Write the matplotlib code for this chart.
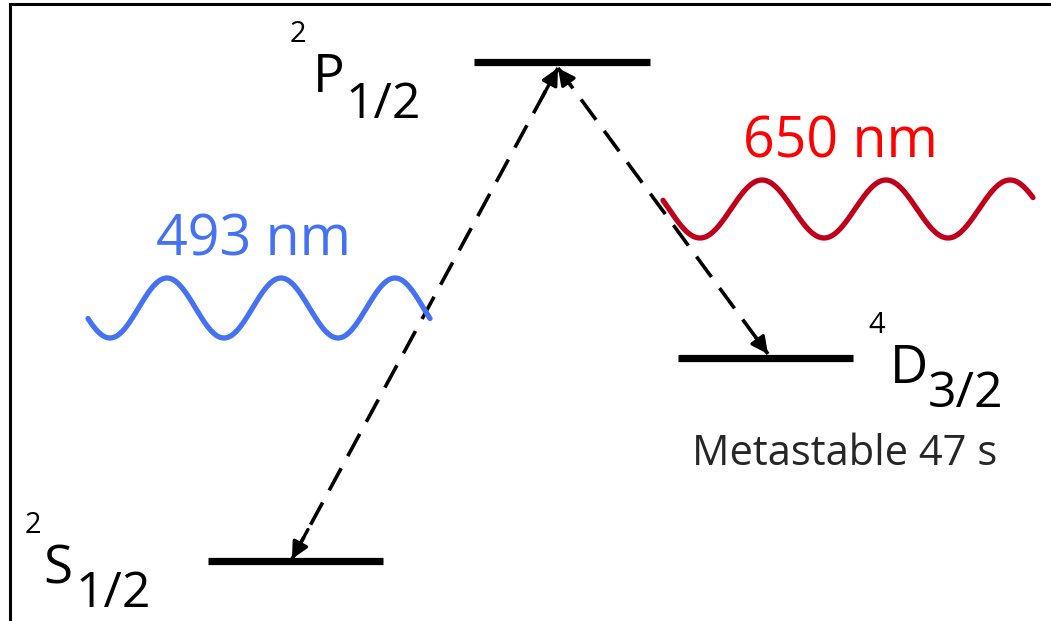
"""Ba+ energy level diagram: 2S1/2, 2P1/2, 4D3/2 with 493 nm and 650 nm lasers."""

import numpy as np
import matplotlib.pyplot as plt

plt.rcParams["font.family"] = ["Open Sans", "DejaVu Sans"]

# ---------------------------------------------------------------
# Data (pixel coordinates of the original slide, y grows downward)
# ---------------------------------------------------------------
level_names = ["S", "P", "D"]
level_y = [561, 61.5, 357.5]
level_x0 = [208, 474, 678]
level_x1 = [383, 650, 853]

# term symbol pieces: multiplicity, letter, J
term_mult = ["2", "2", "4"]
term_letter = ["S", "P", "D"]
term_j = ["1/2", "1/2", "3/2"]

# transitions (dashed) between levels: (from, to)
transitions = [((292, 559), (558, 68)), ((558, 68), (768, 354))]

# laser waves: x start, x end, centre y, amplitude, period, trough x
wave_labels = ["493 nm", "650 nm"]
wave_x = [(88, 430), (663, 1033)]
wave_centre = [308, 209]
wave_amp = [30, 29]
wave_period = [114, 124]
wave_trough = [110, 700]
wave_colors = ["#4472f2", "#c0001a"]
label_colors = ["#4472f2", "#ff0000"]
label_pos = [(253, 255), (840, 157)]

# ---------------------------------------------------------------
fig = plt.figure(figsize=(10.51, 6.21), dpi=100)
ax = fig.add_axes([0, 0, 1, 1])
ax.set_xlim(0, 1051)
ax.set_ylim(621, 0)
ax.axis("off")

# slide frame (left and top edges only)
ax.plot([9.5, 9.5, 1051], [621, 4, 4], color="black", lw=2.2,
        solid_joinstyle="miter")

# energy levels
for y, x0, x1 in zip(level_y, level_x0, level_x1):
    ax.plot([x0, x1], [y, y], color="black", lw=5.2, solid_capstyle="butt")

# dashed transitions with heads at both ends
for (xa, ya), (xb, yb) in transitions:
    ax.plot([xa, xb], [ya, yb], color="black", lw=2.6, dashes=(7, 3.8))
    for (xs, ys), (xe, ye) in [((xa, ya), (xb, yb)), ((xb, yb), (xa, ya))]:
        f = 0.06
        ax.annotate("", xy=(xe, ye), xytext=(xe + (xs - xe) * f, ye + (ys - ye) * f),
                    arrowprops=dict(arrowstyle="-|>,head_length=1.0,head_width=0.5",
                                    color="black", lw=2.4, shrinkA=0, shrinkB=0))

# laser waves
for (xs, xe), yc, amp, per, tr, col in zip(wave_x, wave_centre, wave_amp,
                                           wave_period, wave_trough, wave_colors):
    x = np.linspace(xs, xe, 400)
    y = yc + amp * np.cos(2 * np.pi * (x - tr) / per)
    ax.plot(x, y, color=col, lw=3.8, solid_capstyle="round")

for lab, (lx, ly), col in zip(wave_labels, label_pos, label_colors):
    ax.text(lx, ly, lab, color=col, fontsize=40, ha="center", va="baseline")

# term symbols
sup_pos = [(25, 533), (290, 42), (868, 333)]
let_pos = [(43, 583), (313, 92), (890, 383)]
sub_pos = [(75, 607), (345, 118), (928, 407)]
for m, L, j, sp, lp, bp in zip(term_mult, term_letter, term_j, sup_pos, let_pos, sub_pos):
    ax.text(*sp, m, fontsize=21, ha="left", va="baseline", color="black")
    ax.text(*lp, L, fontsize=38, ha="left", va="baseline", color="black")
    ax.text(*bp, j, fontsize=36, ha="left", va="baseline", color="black")

ax.text(692, 465, "Metastable 47 s", fontsize=30, ha="left", va="baseline",
        color="#262626")

fig.savefig("out.png", dpi=100)
